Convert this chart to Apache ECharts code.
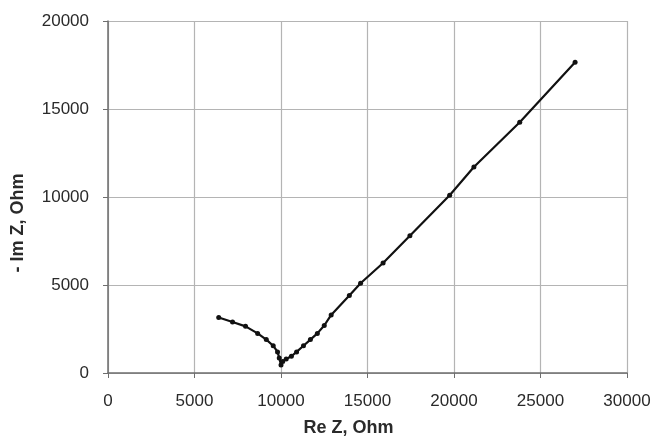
<!DOCTYPE html>
<html>
<head>
<meta charset="utf-8">
<script src="https://cdn.jsdelivr.net/npm/echarts@6/dist/echarts.min.js"></script>
<style>
  html, body { margin: 0; padding: 0; background: #fff; }
  #chart { width: 654px; height: 436px; }
</style>
</head>
<body>
<div id="chart"></div>
<script>
// Nyquist plot: Re Z vs -Im Z (Ohm)
const reZ = [6400, 7200, 7950, 8650, 9150, 9550, 9800, 9900, 10000,
  10100, 10300, 10600, 10900, 11300, 11700, 12100, 12500, 12900,
  13950, 14600, 15900, 17450, 19750, 21150, 23800, 27000]
const imZ = [3150, 2900, 2650, 2250, 1900, 1550, 1200, 850, 450,
  650, 800, 950, 1200, 1550, 1900, 2250, 2700, 3300,
  4400, 5100, 6250, 7800, 10100, 11700, 14250, 17650]
const xTicks = [0, 5000, 10000, 15000, 20000, 25000, 30000]
const yTicks = [0, 5000, 10000, 15000, 20000]

const points = reZ.map((x, i) => [x, imZ[i]])

const FONT = 'Liberation Sans, Arial, sans-serif'
const GRID_COLOR = '#b4b4b4'
const AXIS_COLOR = '#6e6e6e'
const TEXT_COLOR = '#2a2a2a'

const chart = echarts.init(document.getElementById('chart'))
chart.setOption({
  animation: false,
  grid: { left: 108, right: 27, top: 21, bottom: 63, containLabel: false, outerBoundsMode: 'none' },
  xAxis: {
    type: 'value',
    min: xTicks[0],
    max: xTicks[xTicks.length - 1],
    interval: 5000,
    name: 'Re Z, Ohm',
    nameLocation: 'middle',
    nameGap: 46,
    // title sits a little left of the plot's middle in the original
    nameTextStyle: { fontFamily: FONT, fontSize: 18, fontWeight: 'bold', color: TEXT_COLOR, padding: [0, 38, 0, 0] },
    axisLine: { show: true, lineStyle: { color: AXIS_COLOR, width: 1.5 } },
    axisTick: { show: true, length: 5, lineStyle: { color: AXIS_COLOR } },
    axisLabel: { fontFamily: FONT, fontSize: 17, color: TEXT_COLOR, margin: 20, formatter: v => String(v) },
    splitLine: { show: true, lineStyle: { color: GRID_COLOR, width: 1.2 } },
  },
  yAxis: {
    type: 'value',
    min: yTicks[0],
    max: yTicks[yTicks.length - 1],
    interval: 5000,
    name: '- Im Z, Ohm',
    nameLocation: 'middle',
    nameGap: 81,
    nameRotate: 90,
    // title sits a bit below the plot's middle in the original
    nameTextStyle: { fontFamily: FONT, fontSize: 18, fontWeight: 'bold', color: TEXT_COLOR, padding: [0, 52, 0, 0] },
    axisLine: { show: true, lineStyle: { color: AXIS_COLOR, width: 1.5 } },
    axisTick: { show: true, length: 5, lineStyle: { color: AXIS_COLOR } },
    axisLabel: { fontFamily: FONT, fontSize: 17, color: TEXT_COLOR, margin: 19, formatter: v => String(v) },
    splitLine: { show: true, lineStyle: { color: GRID_COLOR, width: 1.2 } },
  },
  series: [
    {
      type: 'line',
      data: points,
      smooth: false,
      symbol: 'circle',
      symbolSize: 5,
      itemStyle: { color: '#111' },
      lineStyle: { color: '#111', width: 2.2 },
    },
  ],
})
</script>
</body>
</html>
